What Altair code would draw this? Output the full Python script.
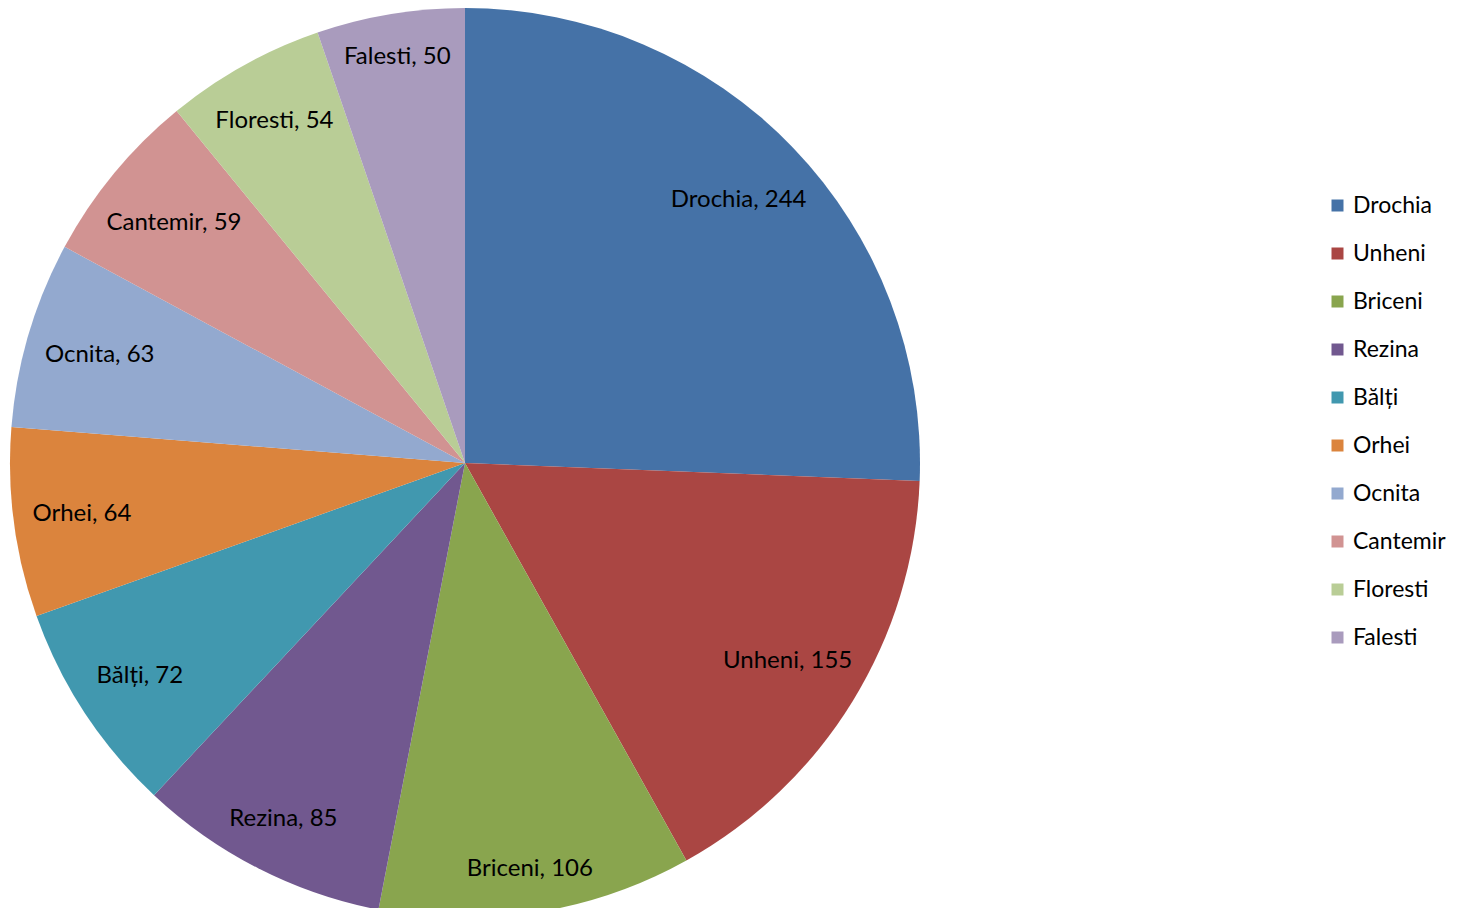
import math
import altair as alt
import pandas as pd

districts = ["Drochia", "Unheni", "Briceni", "Rezina", "Bălți", "Orhei", "Ocnita", "Cantemir", "Floresti", "Falesti"]
values = [244, 155, 106, 85, 72, 64, 63, 59, 54, 50]
colors = ["#4572A7", "#AA4643", "#89A54E", "#71588F", "#4198AF", "#DB843D", "#93A9CF", "#D19392", "#B9CD96", "#A99BBD"]

FONT = "Lato"
FS = 24
R = 455

df = pd.DataFrame({"district": districts, "value": values, "order": list(range(len(districts)))})
df["label"] = [f"{d}, {v}" for d, v in zip(districts, values)]

total = sum(values)
# "best fit" label radius: push each label box as far out as it fits inside the pie
radii = []
cum = 0
for lab, v in zip(df["label"], values):
    mid = (cum + v / 2) / total * 2 * math.pi
    cum += v
    s, c = abs(math.sin(mid)), abs(math.cos(mid))
    w = len(lab) * 5.6
    h = 12
    lim = R - 17
    b = w * s + h * c
    radii.append(-b + math.sqrt(b * b - (w * w + h * h - lim * lim)))
df["r"] = radii

theta_scale = alt.Scale(domain=[0, total])

pie = alt.Chart(df).mark_arc(outerRadius=R, strokeWidth=0).encode(
    theta=alt.Theta("value:Q", stack=True, scale=theta_scale),
    order=alt.Order("order:Q"),
    x=alt.value(457),
    y=alt.value(455),
    color=alt.Color(
        "district:N",
        sort=districts,
        scale=alt.Scale(domain=districts, range=colors),
        legend=alt.Legend(
            title=None,
            orient="none",
            legendX=1318,
            legendY=186,
            symbolType="square",
            symbolSize=144,
            symbolStrokeWidth=0,
            labelFont=FONT,
            labelFontSize=23,
            labelColor="black",
            rowPadding=24,
            labelOffset=4,
        ),
    ),
)

text = alt.Chart(df).transform_window(
    cum="sum(value)", sort=[alt.SortField("order")], frame=[None, 0]
).transform_calculate(
    mid="datum.cum - datum.value / 2"
).mark_text(font=FONT, fontSize=FS, color="black").encode(
    theta=alt.Theta("mid:Q", stack=None, scale=theta_scale),
    x=alt.value(457),
    y=alt.value(455),
    radius=alt.Radius("r:Q", scale=None),
    text="label:N",
)

chart = (pie + text).properties(
    width=1442, height=900, padding=0, autosize=alt.AutoSizeParams(type="none")
).configure_view(stroke=None)

chart.save("out.html", embed_options={"renderer": "svg", "actions": False})
